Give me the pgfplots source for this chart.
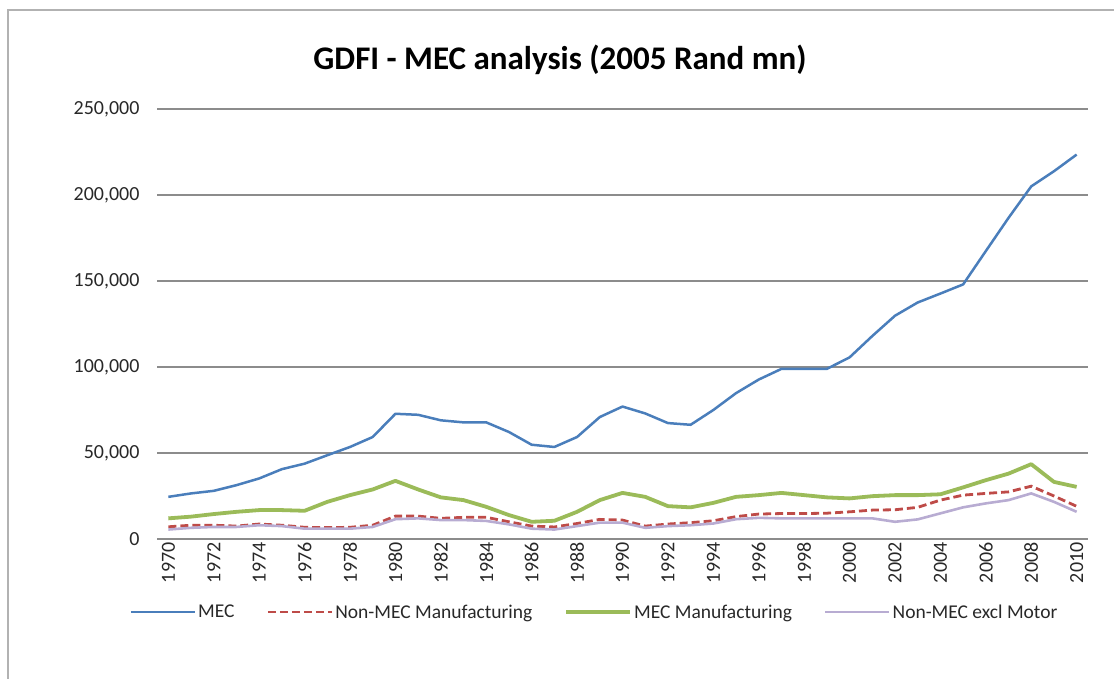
\documentclass[border=0pt]{standalone}
\usepackage{pgfplots}
\pgfplotsset{compat=1.18}
\usepackage{pgfplotstable}
\usepackage{fontspec}
\setmainfont{Carlito}
\definecolor{mecblue}{RGB}{74,126,187}
\definecolor{nonred}{RGB}{190,75,72}
\definecolor{mecgreen}{RGB}{155,187,89}
\definecolor{exclpurple}{RGB}{184,172,210}
\definecolor{gridgray}{RGB}{140,140,140}
\definecolor{txt}{RGB}{40,40,40}

\pgfplotstableread{
year MEC NMM MECM NMX
1970 24500 7100 12000 5500
1971 26500 8000 13000 6500
1972 28000 8000 14500 7000
1973 31300 7500 15800 7000
1974 35200 8700 16800 8000
1975 40600 8000 16800 7500
1976 43800 6800 16400 6000
1977 48700 6600 21600 6000
1978 53500 6800 25500 6000
1979 59300 8000 28800 7000
1980 72800 13300 33800 11500
1981 72200 13300 28800 12000
1982 69000 12000 24200 11000
1983 67800 12600 22600 11000
1984 67800 12600 18700 10500
1985 62200 10000 13900 8500
1986 54800 7500 10000 6000
1987 53500 7000 10600 5500
1988 59300 9000 15800 7500
1989 70900 11400 22600 9500
1990 77000 11000 26800 9500
1991 73000 7500 24500 6500
1992 67400 8700 19100 7500
1993 66400 9500 18400 8000
1994 75000 10600 21000 9000
1995 84800 13000 24500 11500
1996 92700 14500 25500 12300
1997 98900 14800 26800 12000
1998 98900 14800 25500 12000
1999 98900 15000 24200 12000
2000 105600 15800 23600 12000
2001 118000 16800 24900 12000
2002 129800 17000 25500 10000
2003 137500 18400 25500 11400
2004 142700 22600 26000 14900
2005 148000 25500 30000 18400
2006 167400 26500 34200 20700
2007 186700 27400 38000 22600
2008 205000 30700 43500 26500
2009 213800 25000 33200 21600
2010 223500 19000 30300 15800
}\gdfi

\begin{document}
\begin{tikzpicture}[x=1pt,y=1pt]
\path[use as bounding box] (0,0) rectangle (1114,679);
\draw[gray!60, line width=1.2pt] (8,-5) -- (8,669) -- (1120,669);
\node[font=\fontsize{33}{38}\selectfont\bfseries, text=black] at (560,619) {GDFI - MEC analysis (2005 Rand mn)};
\begin{axis}[
  at={(157pt,140pt)}, anchor=south west,
  scale only axis, width=931pt, height=430pt,
  xmin=1969.5, xmax=2010.5, ymin=0, ymax=250000,
  xtick={1970,1972,...,2010},
  ytick={0,50000,...,250000},
  scaled y ticks=false,
  axis line style={draw=none},
  tick style={draw=none},
  ymajorgrids, grid style={gridgray, line width=1.3pt},
  /pgf/number format/assume math mode=true,
  xticklabel style={rotate=90, anchor=east, font=\fontsize{20}{22}\selectfont, text=txt, /pgf/number format/1000 sep={}},
  yticklabel style={font=\fontsize{20}{22}\selectfont, text=txt, /pgf/number format/1000 sep={,}, /pgf/number format/fixed, xshift=-14pt},
  legend columns=4,
  legend style={at={(0.47,-0.17)}, anchor=center, draw=none, fill=none,
    font=\fontsize{19.5}{22}\selectfont, text=txt,
    /tikz/every even column/.append style={column sep=30pt}},
  legend image code/.code={\draw[#1] (0pt,0pt) -- (64pt,0pt);},
]
\addplot[mecblue, line width=2.5pt, line join=round] table[x=year, y=MEC] {\gdfi};
\addlegendentry{MEC}
\addplot[nonred, line width=2.8pt, dash pattern=on 8pt off 4pt] table[x=year, y=NMM] {\gdfi};
\addlegendentry{Non-MEC Manufacturing}
\addplot[mecgreen, line width=3.8pt, line join=round] table[x=year, y=MECM] {\gdfi};
\addlegendentry{MEC Manufacturing}
\addplot[exclpurple, line width=2.6pt, line join=round] table[x=year, y=NMX] {\gdfi};
\addlegendentry{Non-MEC excl Motor}
\end{axis}
\end{tikzpicture}
\end{document}
